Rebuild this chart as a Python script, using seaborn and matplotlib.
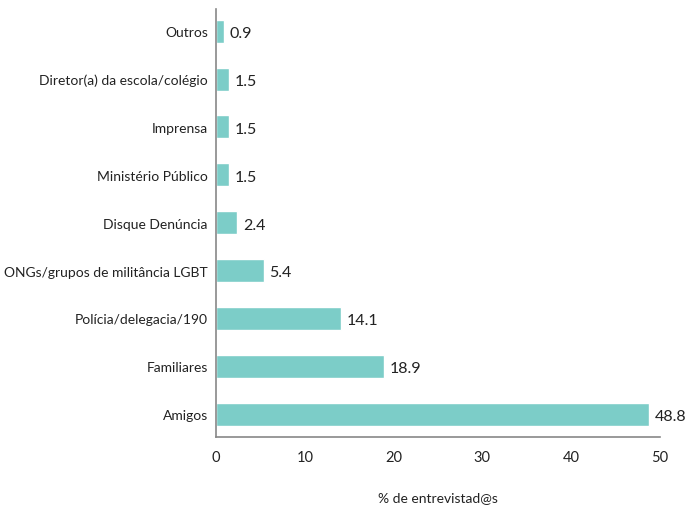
import matplotlib
matplotlib.use('Agg')
import matplotlib.pyplot as plt
import seaborn as sns
import pandas as pd

categorias = ['Outros', 'Diretor(a) da escola/colégio', 'Imprensa', 'Ministério Público',
              'Disque Denúncia', 'ONGs/grupos de militância LGBT', 'Polícia/delegacia/190',
              'Familiares', 'Amigos']
valores = [0.9, 1.5, 1.5, 1.5, 2.4, 5.4, 14.1, 18.9, 48.8]
xticks = [0, 10, 20, 30, 40, 50]

df = pd.DataFrame({'cat': categorias, 'val': valores})

sns.set_style('white')
plt.rcParams['font.family'] = ['Lato', 'DejaVu Sans']

fig = plt.figure(figsize=(6.86, 5.06), dpi=100)
ax = fig.add_axes([0.315, 0.134, 0.647, 0.846])
sns.barplot(data=df, y='cat', x='val', color='#7ccdc8', saturation=1, width=0.48, ax=ax)

# value labels next to each bar
for i, v in enumerate(valores):
    ax.text(v + 0.6, i + 0.04, f'{v:.1f}', va='center', ha='left', fontsize=11.5, color='#222222')

ax.set_xlim(0, 50)
ax.set_ylim(8.48, -0.46)
ax.set_xticks(xticks)
ax.set_xticklabels([str(t) for t in xticks], fontsize=10.5, color='#222222')
ax.tick_params(axis='y', length=0, labelsize=10, labelcolor='#222222', pad=6)
ax.tick_params(axis='x', direction='in', length=4, color='#888888', pad=9)
ax.set_ylabel('')
ax.set_xlabel('% de entrevistad@s', fontsize=10, color='#222222', labelpad=20)

sns.despine(ax=ax)
for s in ['left', 'bottom']:
    ax.spines[s].set_color('#888888')
    ax.spines[s].set_linewidth(1.2)

fig.savefig('out.png', dpi=100)
